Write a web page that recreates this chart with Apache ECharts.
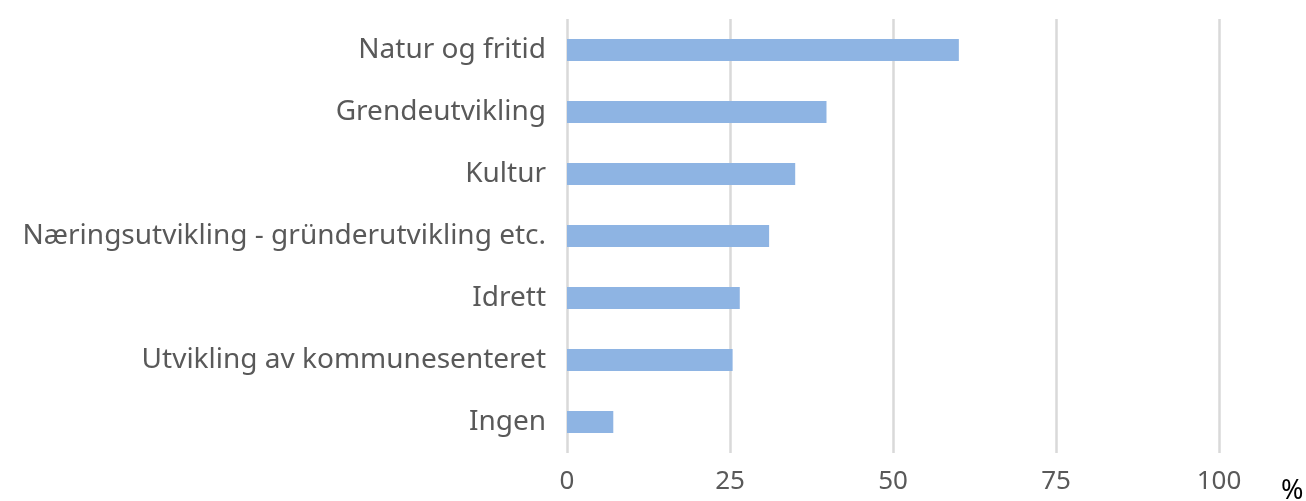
<!DOCTYPE html>
<html>
<head>
<meta charset="utf-8">
<script src="https://cdn.jsdelivr.net/npm/echarts@6/dist/echarts.min.js"></script>
<style>
  html, body { margin: 0; padding: 0; background: #fff; }
  #chart { width: 1306px; height: 501px; }
</style>
</head>
<body>
<div id="chart"></div>
<script>
// kategorier, øverst først
let categories = [
	'Natur og fritid',
	'Grendeutvikling',
	'Kultur',
	'Næringsutvikling - gründerutvikling etc.',
	'Idrett',
	'Utvikling av kommunesenteret',
	'Ingen'
]
let values = [60.1, 39.8, 35.0, 31.0, 26.5, 25.4, 7.1]
let xTicks = [0, 25, 50, 75, 100]

let chart = echarts.init(document.getElementById('chart'))

let option = {
	animation: false,
	backgroundColor: '#fff',
	grid: {
		left: 567,
		right: 87,
		top: 19,
		height: 434
	},
	xAxis: {
		type: 'value',
		min: xTicks[0],
		max: xTicks[xTicks.length - 1],
		interval: 25,
		axisLine: {show: false},
		axisTick: {show: false},
		splitLine: {lineStyle: {color: '#d9d9d9', width: 2.5}},
		axisLabel: {
			margin: 16,
			color: '#595959',
			fontSize: 26,
			fontFamily: 'Noto Sans'
		}
	},
	yAxis: {
		type: 'category',
		inverse: true,
		data: categories,
		axisLine: {show: false},
		axisTick: {show: false},
		axisLabel: {
			margin: 21,
			color: '#595959',
			fontSize: 28,
			fontFamily: 'Noto Sans'
		}
	},
	graphic: [{
		type: 'text',
		left: 1281,
		top: 478,
		style: {
			text: '%',
			fill: '#000',
			fontSize: 27,
			fontFamily: 'Noto Sans'
		}
	}],
	series: [{
		type: 'bar',
		data: values,
		barWidth: 22,
		itemStyle: {color: '#8eb4e3'}
	}]
}

chart.setOption(option)
</script>
</body>
</html>
